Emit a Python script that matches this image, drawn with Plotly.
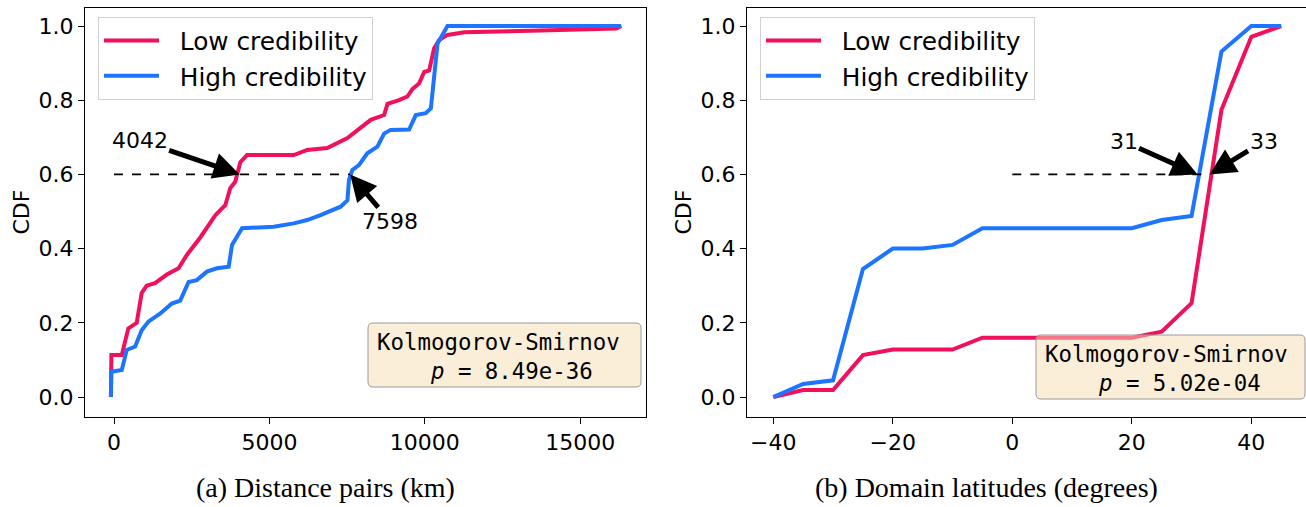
import plotly.graph_objects as go

# ---------------- data ----------------
# (a) Distance pairs (km)
low_dist_x = [-100, -85, 250, 460, 730, 890, 1050, 1320, 1700, 2075,
              2345, 2775, 3100, 3260, 3580, 3740, 3900, 3960, 4065, 4280,
              5785, 6215, 6860, 7510, 7830, 8260, 8690, 8800, 9170, 9440,
              9600, 9815, 9980, 10140, 10300, 10460, 10730, 11270, 13420, 15790,
              16160, 16320]
low_dist_y = [0, 0.113, 0.113, 0.185, 0.2, 0.28, 0.30, 0.307, 0.33, 0.347,
              0.383, 0.43, 0.47, 0.49, 0.517, 0.563, 0.58, 0.603, 0.633, 0.652,
              0.652, 0.666, 0.671, 0.698, 0.72, 0.747, 0.76, 0.79, 0.80, 0.81,
              0.83, 0.845, 0.876, 0.88, 0.94, 0.962, 0.976, 0.983, 0.987, 0.99,
              0.993, 1.0]
high_dist_x = [-100, -85, 250, 410, 680, 890, 1105, 1490, 1860, 2130,
               2400, 2665, 2990, 3310, 3690, 3797, 4120, 5140, 5785, 6215,
               6645, 7290, 7510, 7560, 7670, 7880, 8150, 8475, 8690, 8900,
               9495, 9710, 10030, 10195, 10410, 10570, 10730, 16320]
high_dist_y = [0, 0.068, 0.073, 0.127, 0.136, 0.18, 0.203, 0.225, 0.252, 0.26,
               0.31, 0.315, 0.338, 0.347, 0.351, 0.41, 0.455, 0.459, 0.468, 0.477,
               0.49, 0.513, 0.53, 0.585, 0.612, 0.625, 0.657, 0.675, 0.71, 0.72,
               0.721, 0.76, 0.765, 0.778, 0.953, 0.976, 1.0, 1.0]
dist_marks = [4042, 7598]      # median points for low / high
dist_p = "8.49e-36"
dist_ticks = [0, 5000, 10000, 15000]

# (b) Domain latitudes (degrees)
lat_x = [-40, -35, -30, -25, -20, -15, -10, -5, 0, 5, 10, 15, 20, 25, 30, 35, 40, 45]
low_lat_y = [0, 0.019, 0.019, 0.113, 0.128, 0.128, 0.128, 0.16, 0.16, 0.16,
             0.16, 0.16, 0.16, 0.176, 0.253, 0.774, 0.971, 1.0]
high_lat_y = [0, 0.035, 0.045, 0.345, 0.40, 0.40, 0.41, 0.455, 0.455, 0.455,
              0.455, 0.455, 0.455, 0.477, 0.488, 0.931, 1.0, 1.0]
lat_marks = [33, 31]           # median points for low / high
lat_p = "5.02e-04"
lat_ticks = [-40, -20, 0, 20, 40]

cdf_ticks = [0, 0.2, 0.4, 0.6, 0.8, 1.0]
median_level = 0.6
series_names = ["Low credibility", "High credibility"]
captions = ["(a) Distance pairs (km)", "(b) Domain latitudes (degrees)"]

# ---------------- style ----------------
W, H = 1306, 507
RED = "#f2105a"
BLUE = "#1c74ff"
SANS = "DejaVu Sans"
MONO = "DejaVu Sans Mono"
SERIF = "Liberation Serif"

def px(xp, yp):
    """page pixel -> paper coords"""
    return xp / W, 1 - yp / H

def fmt_tick(v):
    return ("\u2212" + str(abs(v))) if v < 0 else str(v)

fig = go.Figure()

# panel a
fig.add_trace(go.Scatter(x=low_dist_x, y=low_dist_y, mode="lines", name="\u00a0\u00a0" + series_names[0],
                         line=dict(color=RED, width=4), xaxis="x", yaxis="y", legend="legend"))
fig.add_trace(go.Scatter(x=high_dist_x, y=high_dist_y, mode="lines", name="\u00a0\u00a0" + series_names[1],
                         line=dict(color=BLUE, width=4), xaxis="x", yaxis="y", legend="legend"))
fig.add_trace(go.Scatter(x=[0, max(dist_marks)], y=[median_level, median_level], mode="lines",
                         line=dict(color="black", width=1.6, dash="dash"), showlegend=False,
                         xaxis="x", yaxis="y"))
# panel b
fig.add_trace(go.Scatter(x=lat_x, y=low_lat_y, mode="lines", name="\u00a0\u00a0" + series_names[0],
                         line=dict(color=RED, width=4), xaxis="x2", yaxis="y2", legend="legend2"))
fig.add_trace(go.Scatter(x=lat_x, y=high_lat_y, mode="lines", name="\u00a0\u00a0" + series_names[1],
                         line=dict(color=BLUE, width=4), xaxis="x2", yaxis="y2", legend="legend2"))
fig.add_trace(go.Scatter(x=[0, max(lat_marks)], y=[median_level, median_level], mode="lines",
                         line=dict(color="black", width=1.6, dash="dash"), showlegend=False,
                         xaxis="x2", yaxis="y2"))

# y=0 at page 397, y=1 at page 26 (371 px per unit); plot from 7.5 to 416.5
ydom = [1 - 416.5 / H, 1 - 7.5 / H]
yrange = [-19.5 / 371, 1 + 18.5 / 371]
axis_common = dict(showline=True, mirror=True, linecolor="black", linewidth=1,
                   ticks="outside", ticklen=6, tickwidth=1, tickcolor="black",
                   showgrid=False, zeroline=False, automargin=False,
                   tickfont=dict(family=SANS, size=22, color="black"))
ytitle = dict(text="CDF", font=dict(family=SANS, size=22, color="black"), standoff=2)

layout = dict(
    width=W, height=H, margin=dict(l=0, r=0, t=0, b=0),
    paper_bgcolor="white", plot_bgcolor="white",
    xaxis=dict(domain=[84.8 / W, 645.5 / W], range=[-940, 17101],
               tickvals=dist_ticks, ticktext=[fmt_tick(v) for v in dist_ticks],
               anchor="y", **axis_common),
    yaxis=dict(domain=ydom, range=yrange, tickvals=cdf_ticks,
               ticktext=[f"{v:.1f}" for v in cdf_ticks], anchor="x", title=ytitle, **axis_common),
    xaxis2=dict(domain=[747 / W, 1.0], range=[-44.4, 49.15],
                tickvals=lat_ticks, ticktext=[fmt_tick(v) for v in lat_ticks],
                anchor="y2", **axis_common),
    yaxis2=dict(domain=ydom, range=yrange, tickvals=cdf_ticks,
                ticktext=[f"{v:.1f}" for v in cdf_ticks], anchor="x2", title=ytitle, **axis_common),
    showlegend=True,
)
leg_common = dict(font=dict(family=SANS, size=24.8, color="black"), bgcolor="rgba(255,255,255,0.8)",
                  bordercolor="#d0d0d0", borderwidth=1, xanchor="left", yanchor="top",
                  itemwidth=55, tracegroupgap=0)
lx, ly = px(98, 17)
layout["legend"] = dict(x=lx, y=ly, **leg_common)
lx2, ly2 = px(760, 17)
layout["legend2"] = dict(x=lx2, y=ly2, **leg_common)
fig.update_layout(**layout)

annotations = []
arrow = dict(showarrow=True, arrowhead=2, arrowsize=1.05, arrowwidth=5, arrowcolor="black",
             font=dict(family=SANS, size=22, color="black"))
annotations.append(dict(x=dist_marks[0], y=median_level, xref="x", yref="y",
                        text=str(dist_marks[0]), ax=-100, ay=-34, **arrow))
annotations.append(dict(x=dist_marks[1], y=median_level, xref="x", yref="y",
                        text=str(dist_marks[1]), ax=40, ay=47, **arrow))
annotations.append(dict(x=lat_marks[1], y=median_level, xref="x2", yref="y2",
                        text=str(lat_marks[1]), ax=-74, ay=-33, **arrow))
annotations.append(dict(x=lat_marks[0], y=median_level, xref="x2", yref="y2",
                        text=str(lat_marks[0]), ax=54, ay=-33, **arrow))

# KS boxes
shapes = []
def rounded_box(x0, y0, x1, y1, r=5):
    X = lambda v: v / W
    Y = lambda v: 1 - v / H
    path = (f"M {X(x0+r)},{Y(y0)} L {X(x1-r)},{Y(y0)} Q {X(x1)},{Y(y0)} {X(x1)},{Y(y0+r)} "
            f"L {X(x1)},{Y(y1-r)} Q {X(x1)},{Y(y1)} {X(x1-r)},{Y(y1)} "
            f"L {X(x0+r)},{Y(y1)} Q {X(x0)},{Y(y1)} {X(x0)},{Y(y1-r)} "
            f"L {X(x0)},{Y(y0+r)} Q {X(x0)},{Y(y0)} {X(x0+r)},{Y(y0)} Z")
    return dict(type="path", path=path, xref="paper", yref="paper",
                fillcolor="rgba(245,222,179,0.5)", line=dict(color="#9a9a9a", width=1), layer="above")

for (bx0, by0, bx1, by1, pval) in [(368, 323, 641, 387, dist_p), (1036, 335, 1305, 399, lat_p)]:
    shapes.append(rounded_box(bx0, by0, bx1, by1))
    tx, ty = px(bx0 + 7, by0 + 4)
    annotations.append(dict(x=tx, y=ty, xref="paper", yref="paper", xanchor="left", yanchor="top",
                            align="left", showarrow=False,
                            text="Kolmogorov-Smirnov<br>\u00a0\u00a0\u00a0\u00a0<i>p</i> = " + pval,
                            font=dict(family=MONO, size=22.4, color="black")))

# captions
for cx, cap in [(325, captions[0]), (987, captions[1])]:
    x, y = px(cx, 487)
    annotations.append(dict(x=x, y=y, xref="paper", yref="paper", xanchor="center", yanchor="middle",
                            showarrow=False, text=cap, font=dict(family=SERIF, size=28, color="black")))

fig.update_layout(annotations=annotations, shapes=shapes)
fig.write_html("out.html", config={"displayModeBar": False},
               post_script="document.body.style.margin='0px';document.body.style.overflow='hidden';")
